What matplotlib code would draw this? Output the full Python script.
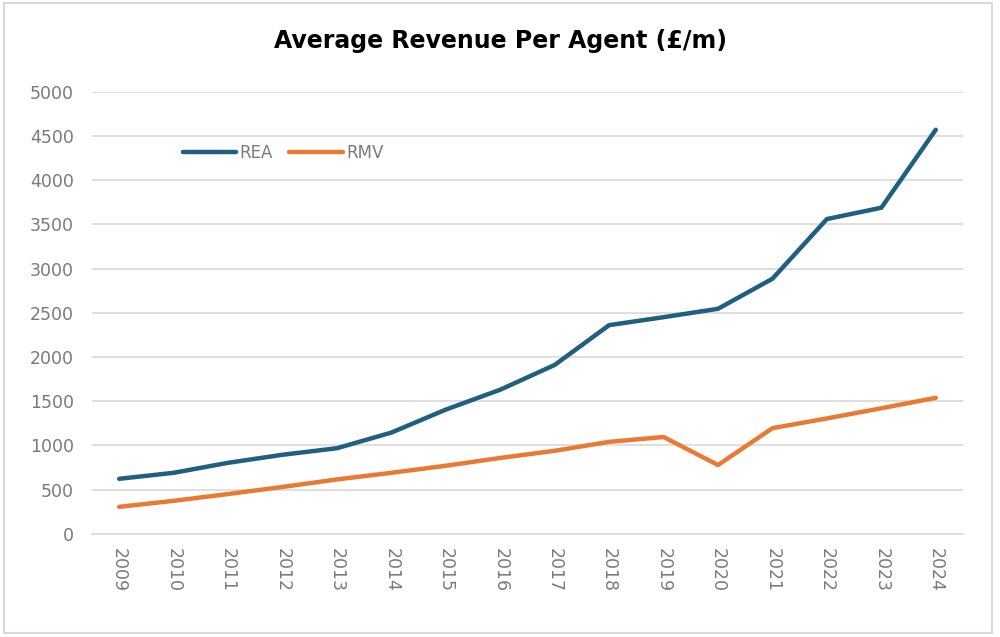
import matplotlib
matplotlib.use("Agg")
import matplotlib.pyplot as plt

years = [str(y) for y in range(2009, 2025)]
rea = [622, 690, 803, 894, 968, 1145, 1405, 1630, 1910, 2360, 2450, 2545, 2885, 3560, 3688, 4570]
rmv = [305, 373, 450, 530, 615, 690, 770, 858, 939, 1040, 1095, 778, 1195, 1305, 1420, 1538]

fig = plt.figure(figsize=(10, 6.37), dpi=100)
ax = fig.add_axes([0.092, 0.162, 0.871, 0.694])

x = list(range(len(years)))
ax.plot(x, rea, color="#1f5f7f", lw=3.2, label="REA", solid_capstyle="round")
ax.plot(x, rmv, color="#e97a34", lw=3.2, label="RMV", solid_capstyle="round")

ax.set_xlim(-0.5, len(years) - 0.5)
ax.set_ylim(0, 5000)
ax.set_yticks(range(0, 5001, 500))
ax.set_xticks(x)
ax.set_xticklabels(years, rotation=270)
ax.tick_params(axis="both", length=0, labelsize=12.5, labelcolor="#7a7a7a")
ax.tick_params(axis="y", pad=13)
ax.tick_params(axis="x", pad=10)
ax.grid(axis="y", color="#d9d9d9", lw=1.2)
ax.set_axisbelow(True)
for s in ["top", "right", "left"]:
    ax.spines[s].set_visible(False)
ax.spines["bottom"].set_color("#d9d9d9")
ax.spines["bottom"].set_linewidth(1.2)

ax.legend(loc="upper left", bbox_to_anchor=(0.087, 0.915), ncol=2, frameon=False,
          fontsize=12, labelcolor="#7a7a7a", handlelength=3.2, handletextpad=0.2,
          columnspacing=1.0)

fig.text(0.5, 0.935, "Average Revenue Per Agent (£/m)", ha="center", va="center",
         fontsize=17, fontweight="bold", family=["Liberation Sans Narrow", "DejaVu Sans"])

# light frame around the chart
fig.patches.append(plt.Rectangle((0.004, 0.006), 0.988, 0.99, transform=fig.transFigure,
                                 fill=False, edgecolor="#d9d9d9", lw=1.5))

fig.savefig("out.png", dpi=100)
